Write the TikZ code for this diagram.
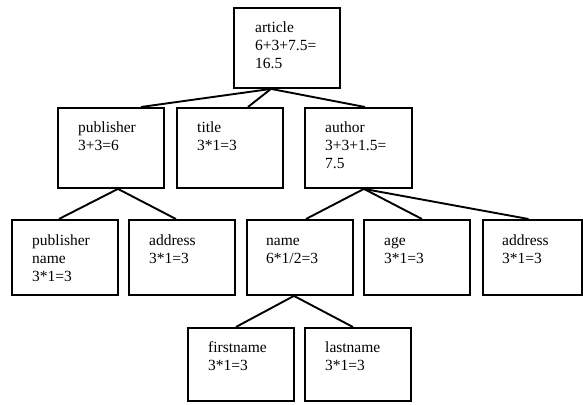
\documentclass[tikz,border=0pt]{standalone}
\usepackage{fontspec}
\setmainfont{Liberation Serif}
\begin{document}
\begin{tikzpicture}[x=1pt,y=-1pt,
  box/.style={draw, line width=1.9pt, anchor=north west, inner sep=0pt, minimum width=106pt, minimum height=80pt},
  lowbox/.style={box, minimum height=75pt},
  txt/.style={anchor=north west, inner sep=0pt, align=left, font=\fontsize{15.5}{18}\selectfont},
  conn/.style={line width=1.9pt}]
\useasboundingbox (0,0) rectangle (583,404);
% boxes
\node[box] (article) at (233,7) {};
\node[box] (publisher) at (57,107) {};
\node[box] (title) at (176,107) {};
\node[box, minimum width=107pt] (author) at (304,107) {};
\node[lowbox] (pubname) at (11,219) {};
\node[lowbox] (address) at (128,219) {};
\node[lowbox] (name) at (246,219) {};
\node[lowbox] (age) at (363,219) {};
\node[lowbox, minimum width=99pt] (address2) at (482,219) {};
\node[lowbox, minimum height=73pt] (firstname) at (187,327) {};
\node[lowbox, minimum height=73pt] (lastname) at (304,327) {};
% texts
\node[txt] (articleT) at ([xshift=22pt,yshift=-13pt]article.north west) {\strut article\\6+3+7.5=\\16.5};
\node[txt] (publisherT) at ([xshift=21pt,yshift=-13pt]publisher.north west) {\strut publisher\\3+3=6};
\node[txt] (titleT) at ([xshift=21pt,yshift=-13pt]title.north west) {\strut title\\3*1=3};
\node[txt] (authorT) at ([xshift=21pt,yshift=-13pt]author.north west) {\strut author\\3+3+1.5=\\7.5};
\node[txt] (pubnameT) at ([xshift=21pt,yshift=-14pt]pubname.north west) {\strut publisher\\name\\3*1=3};
\node[txt] (addressT) at ([xshift=21pt,yshift=-14pt]address.north west) {\strut address\\3*1=3};
\node[txt] (nameT) at ([xshift=20pt,yshift=-14pt]name.north west) {\strut name\\6*1/2=3};
\node[txt] (ageT) at ([xshift=21pt,yshift=-14pt]age.north west) {\strut age\\3*1=3};
\node[txt] (address2T) at ([xshift=20pt,yshift=-14pt]address2.north west) {\strut address\\3*1=3};
\node[txt] (firstnameT) at ([xshift=21pt,yshift=-13pt]firstname.north west) {\strut firstname\\3*1=3};
\node[txt] (lastnameT) at ([xshift=21pt,yshift=-13pt]lastname.north west) {\strut lastname\\3*1=3};
% connectors
\draw[conn] ([xshift=-16pt]article.south) -- ([xshift=30pt]publisher.north);
\draw[conn] ([xshift=-16pt]article.south) -- ([xshift=18pt]title.north);
\draw[conn] ([xshift=-16pt]article.south) -- ([xshift=6.5pt]author.north);
\draw[conn] ([xshift=7pt]publisher.south) -- ([xshift=-6pt]pubname.north);
\draw[conn] ([xshift=7pt]publisher.south) -- ([xshift=-6pt]address.north);
\draw[conn] ([xshift=5.5pt]author.south) -- ([xshift=6pt]name.north);
\draw[conn] ([xshift=5.5pt]author.south) -- ([xshift=5pt]age.north);
\draw[conn] ([xshift=5.5pt]author.south) -- ([xshift=-4pt]address2.north);
\draw[conn] ([xshift=-6pt]name.south) -- ([xshift=-5pt]firstname.north);
\draw[conn] ([xshift=-6pt]name.south) -- ([xshift=-5pt]lastname.north);
\end{tikzpicture}
\end{document}
